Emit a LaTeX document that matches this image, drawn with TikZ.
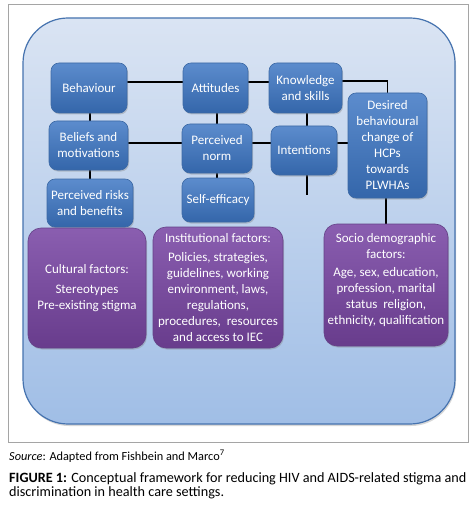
\documentclass[tikz,border=0pt]{standalone}
\usepackage{fontspec}
\setmainfont{Carlito}
\usetikzlibrary{shadows}
\pgfdeclarelayer{back}
\pgfdeclarelayer{lines}
\pgfsetlayers{back,lines,main}
\definecolor{bluetop}{RGB}{92,140,205}
\definecolor{bluebot}{RGB}{52,102,170}
\definecolor{blueedge}{RGB}{60,105,165}
\definecolor{purtop}{RGB}{138,94,176}
\definecolor{purbot}{RGB}{104,60,140}
\definecolor{puredge}{RGB}{100,65,135}
\definecolor{bgtop}{RGB}{218,228,243}
\definecolor{bgbot}{RGB}{160,190,230}
\definecolor{bgedge}{RGB}{70,115,175}
\definecolor{framegray}{RGB}{165,165,165}
\tikzset{
  x=1pt,y=-1pt,
  bluebox/.style={draw=blueedge,line width=0.6pt,rounded corners=8pt,top color=bluetop,bottom color=bluebot,
    text=white,align=center,inner sep=1pt,font=\fontsize{13}{16}\selectfont,
    drop shadow={opacity=0.35,shadow xshift=1pt,shadow yshift=-1.5pt}},
  purbox/.style={draw=puredge,line width=0.6pt,rounded corners=13pt,top color=purtop,bottom color=purbot,
    text=white,align=center,inner sep=1pt,font=\fontsize{13}{16}\selectfont,
    drop shadow={opacity=0.35,shadow xshift=1pt,shadow yshift=-1.5pt}},
  boxtext/.style={text=white,align=center,inner sep=0pt,font=\fontsize{13}{16}\selectfont},
  conn/.style={black,line width=1.3pt},
  thickconn/.style={black,line width=1.9pt},
}
\begin{document}
\begin{tikzpicture}
\useasboundingbox (0,0) rectangle (474,505);
% blue boxes
\node[bluebox,minimum width=76pt,minimum height=50pt] (beh) at (89,88) {Behaviour};
\node[bluebox,minimum width=65pt,minimum height=50pt] (att) at (215.5,88) {Attitudes};
\node[bluebox,minimum width=73pt,minimum height=50pt] (know) at (305.5,88) {Knowledge\\and skills};
\node[bluebox,minimum width=79pt,minimum height=49pt] (bel) at (88.5,145.5) {Beliefs and\\motivations};
\node[bluebox,minimum width=70pt,minimum height=49pt] (norm) at (217,148.5) {Perceived\\norm};
\node[bluebox,minimum width=66pt,minimum height=49pt] (int) at (304,150.5) {Intentions};
\node[bluebox,minimum width=79pt,minimum height=105pt] (des) at (387.5,145.5) {Desired\\behavioural\\change of\\HCPs\\towards\\PLWHAs};
\node[bluebox,minimum width=86pt,minimum height=48pt] (risk) at (90,203) {Perceived risks\\and benefits};
\node[bluebox,minimum width=72pt,minimum height=44pt] (self) at (218,200) {Self-efficacy};
% purple boxes
\node[purbox,minimum width=118pt,minimum height=120pt] (cult) at (87,288) {Cultural factors:\\[4pt]Stereotypes\\Pre-existing stigma};
\node[purbox,minimum width=130pt,minimum height=121pt] (inst) at (218,287.5) {Institutional factors:\\[3pt]Policies, strategies,\\guidelines, working\\environment, laws,\\regulations,\\procedures,~ resources\\and access to IEC};
\node[purbox,minimum width=124pt,minimum height=122pt] (socio) at (386,285) {};
\node[boxtext] (sociotext) at (386,280.5) {Socio demographic\\factors:\\[2pt]Age, sex, education,\\profession, marital\\status~ religion,\\ethnicity, qualification};
% background panel and frame
\begin{pgfonlayer}{back}
\fill[white] (0,0) rectangle (474,505);
\node[draw=framegray,line width=0.8pt,minimum width=460pt,minimum height=438pt,inner sep=0pt] (frame) at (238,223) {};
\node[draw=bgedge,line width=1.2pt,rounded corners=45pt,top color=bgtop,bottom color=bgbot,
  minimum width=432pt,minimum height=406pt,inner sep=0pt,
  drop shadow={opacity=0.3,shadow xshift=1pt,shadow yshift=-2pt}] (panel) at (239,221) {};
\end{pgfonlayer}
% connectors
\begin{pgfonlayer}{lines}
\draw[conn] ([yshift=6pt]beh.east) -- ([yshift=6pt]att.west);
\draw[conn] ([yshift=6pt]att.east) -- ([yshift=6pt]know.west);
\draw[conn] ([yshift=7pt]know.east) -| (des.north);
\draw[conn] ([xshift=1pt]beh.south) -- ([xshift=1pt]beh.south |- bel.north);
\draw[conn] ([xshift=1.5pt]att.south) -- ([xshift=1.5pt]att.south |- norm.north);
\draw[conn] ([xshift=1.5pt]know.south) -- ([xshift=1.5pt,yshift=-20pt]know.south |- int.south) coordinate (intend);
\draw[thickconn] ([yshift=2.5pt]bel.east) -- ([yshift=2.5pt]bel.east -| norm.west);
\draw[thickconn] ([yshift=5.5pt]norm.east) -- ([yshift=5.5pt]norm.east -| int.west);
\draw[thickconn] ([yshift=7.5pt]int.east) -- ([yshift=7.5pt]int.east -| des.west);
\draw[conn] ([xshift=1.5pt]bel.south) -- ([xshift=1.5pt]bel.south |- risk.north);
\draw[conn] (norm.south) -- (norm.south |- self.north);
\draw[conn] ([xshift=-1.5pt]des.south) -- ([xshift=-1.5pt]des.south |- socio.north);
\end{pgfonlayer}
% captions
\node[anchor=base west,inner sep=0pt,font=\fontsize{12.3}{14}\selectfont] (src) at (9,460) {\textit{Source}: Adapted from Fishbein and Marco\textsuperscript{7}};
\node[anchor=base west,inner sep=0pt,align=left,font=\fontsize{14.2}{13.8}\selectfont] (cap) at (9,496) {\textbf{FIGURE 1:} Conceptual framework for reducing HIV and AIDS-related stigma and\\discrimination in health care settings.};
\end{tikzpicture}
\end{document}
